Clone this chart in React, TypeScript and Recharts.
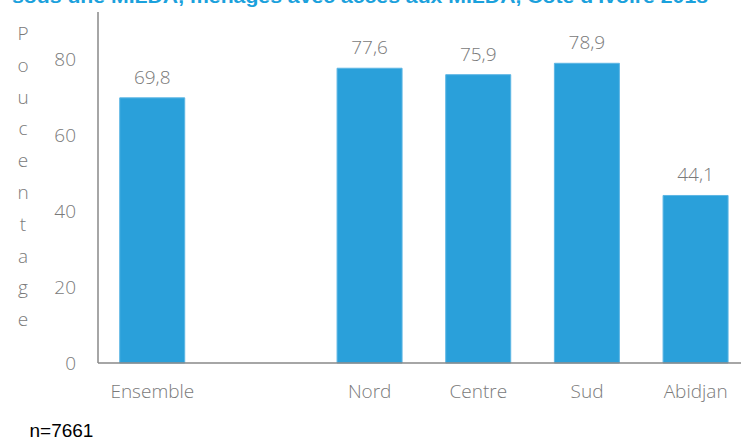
import React from 'react';
import { BarChart, Bar, XAxis, YAxis, LabelList } from 'recharts';

const categories = ['Ensemble', ' ', 'Nord', 'Centre', 'Sud', 'Abidjan'];
const values: (number | null)[] = [69.8, null, 77.6, 75.9, 78.9, 44.1];
const yTicks = [0, 20, 40, 60, 80];
const title = "sous une MILDA, ménages avec accès aux MILDA, Côte d'Ivoire 2018";
const axisLabel = 'Poucentage';
const footnote = 'n=7661';

const data = categories.map((c, i) => ({ name: c, value: values[i] }));

const GRAY = '#7a7a7a';
const FONT = "'Open Sans', 'DejaVu Sans', sans-serif";

const fmt = (v: any) => (v == null ? '' : Number(v).toFixed(1).replace('.', ','));

export default function App() {
  return (
    <div style={{ position: 'absolute', left: 0, top: 0, width: 741, height: 441, overflow: 'hidden', background: '#fff' }}>
      <BarChart
        width={760}
        height={441}
        data={data}
        margin={{ top: 12, right: 10, bottom: 18, left: 38 }}
        barCategoryGap="20%"
      >
        <XAxis
          dataKey="name"
          height={60}
          interval={0}
          tickLine={false}
          tickSize={0}
          tickMargin={22}
          axisLine={{ stroke: '#888', strokeWidth: 1.5 }}
          tick={{ fill: GRAY, fontFamily: FONT, fontWeight: 300, fontSize: 19 }}
        />
        <YAxis
          width={60}
          domain={[0, 92.4]}
          ticks={yTicks}
          tickLine={false}
          tickSize={0}
          tickMargin={22}
          axisLine={{ stroke: '#888', strokeWidth: 1.5 }}
          tick={{ fill: GRAY, fontFamily: FONT, fontWeight: 300, fontSize: 19 }}
        />
        <Bar dataKey="value" fill="#2aa0da" stroke="#5db6e4" strokeWidth={1} isAnimationActive={false}>
          <LabelList
            dataKey="value"
            position="top"
            offset={14}
            formatter={fmt}
            fill={GRAY}
            fontFamily={FONT}
            fontWeight={300}
            fontSize={19}
          />
        </Bar>
      </BarChart>
      <svg
        width={741}
        height={441}
        style={{ position: 'absolute', left: 0, top: 0, pointerEvents: 'none' }}
      >
        <text
          x={12}
          y={3}
          fontFamily="'Liberation Sans', Arial, sans-serif"
          fontWeight="bold"
          fontSize={19}
          fill="#1ba1dc"
          textLength={696}
          lengthAdjust="spacingAndGlyphs"
        >
          {title}
        </text>
        <text x={23} y={40} textAnchor="middle" fill={GRAY} fontFamily={FONT} fontWeight={300} fontSize={19}>
          {axisLabel.split('').map((ch, i) => (
            <tspan key={i} x={23} dy={i === 0 ? 0 : 31.8}>
              {ch}
            </tspan>
          ))}
        </text>
        <text x={29.5} y={437} fontFamily="'Liberation Sans', Arial, sans-serif" fontSize={19} fill="#000">
          {footnote}
        </text>
      </svg>
    </div>
  );
}
